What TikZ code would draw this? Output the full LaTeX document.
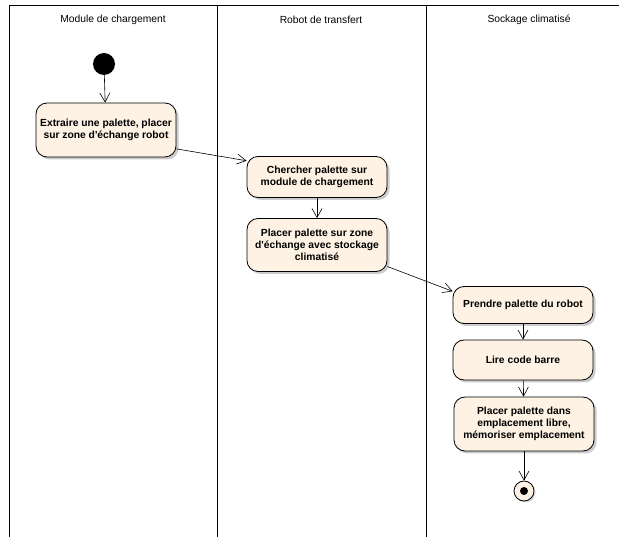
\documentclass[tikz,border=0pt]{standalone}
\usepackage{fontspec}
\setmainfont{Liberation Sans}
\usetikzlibrary{arrows.meta,shadows,positioning}
\definecolor{actfill}{RGB}{253,242,228}
\begin{document}
\begin{tikzpicture}[x=1pt,y=-1pt,font=\fontsize{10.3}{12.3}\selectfont,
  activite/.style={draw,rounded corners=11pt,fill=actfill,line width=0.8pt,
    minimum width=140pt,align=center,inner sep=1pt,
    font=\fontsize{10.3}{12.3}\selectfont\bfseries,
    drop shadow={shadow xshift=2.5pt,shadow yshift=-2.5pt,fill=black!40}},
  fleche/.style={-{Straight Barb[length=9pt,width=10pt]},line width=0.6pt}]

\useasboundingbox (0,0) rectangle (619,537);

%Couloirs
\draw[line width=0.7pt] (619,5) -- (9,5) -- (9,537);
\foreach \x in {217,426}
  \draw[line width=0.7pt] (\x,5) -- (\x,537);

\node (t1) at (113,20) {Module de chargement};
\node (t2) at (321,20) {Robot de transfert};
\node (t3) at (529,20) {Sockage climatisé};

%Activites
\node[circle,fill=black,minimum size=22pt,inner sep=0pt] (debut) at (104,64) {};
\node[activite,minimum height=54pt] (a) at (106,130)
  {Extraire une palette, placer\\sur zone d\textquotesingle échange robot};
\node[activite,minimum height=41pt] (b) at (317,177)
  {Chercher palette sur\\module de chargement};
\node[activite,minimum height=53pt] (c) at (317,245)
  {Placer palette sur zone\\d\textquotesingle échange avec stockage\\climatisé};
\node[activite,minimum height=37pt] (d) at (523,305) {Prendre palette du robot};
\node[activite,minimum height=40pt] (e) at (523,360) {Lire code barre};
\node[activite,minimum height=54pt] (f) at (524,424)
  {Placer palette dans\\emplacement libre,\\mémoriser emplacement};
\node[circle,draw,fill=actfill,minimum size=20pt,inner sep=0pt,line width=0.8pt,
  drop shadow={shadow xshift=1.5pt,shadow yshift=-1.5pt,fill=black!30}] (fin) at (524,491) {};
\fill (fin.center) circle (4pt);

%Transitions
\draw[fleche] (debut) -- (a);
\draw[fleche] (a.-15) -- (b.167);
\draw[fleche] (b) -- (c);
\draw[fleche] (c.-17) -- (d.169);
\draw[fleche] (d) -- (e);
\draw[fleche] (e) -- (f);
\draw[fleche] (f) -- (fin);

\end{tikzpicture}
\end{document}
